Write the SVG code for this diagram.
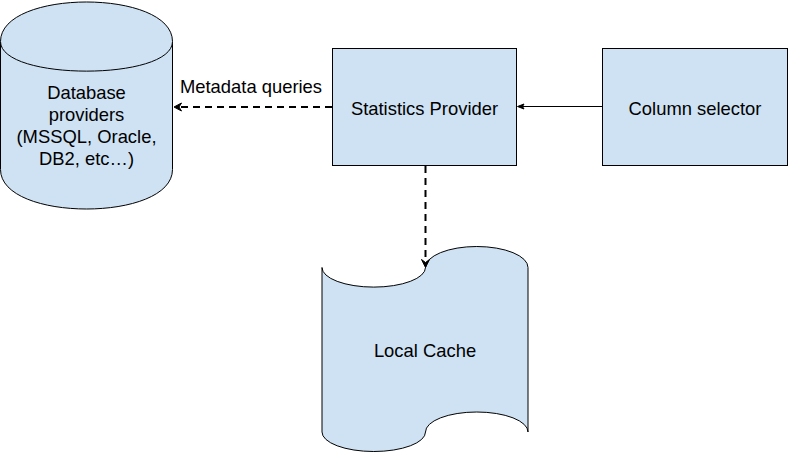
<svg xmlns="http://www.w3.org/2000/svg" width="799" height="463" viewBox="0 0 799 463">
<style>
.shape{fill:#cfe2f3;stroke:#000;stroke-width:1}
.lbl{font-family:"Liberation Sans",Arial,sans-serif;font-size:18.4px;fill:#000;text-anchor:middle}
.dash{fill:none;stroke:#000;stroke-width:2;stroke-dasharray:7 5}
.solid{fill:none;stroke:#000;stroke-width:1}
.head{fill:#000;stroke:#000;stroke-width:1;stroke-linejoin:miter}
</style>
<rect width="799" height="463" fill="#fff"/>
<g id="database">
<path class="shape" d="M0.5,41.5 C0.5,-11.17 172.5,-11.17 172.5,41.5 L172.5,169.5 C172.5,222.17 0.5,222.17 0.5,169.5 Z"/>
<path class="shape" fill="none" d="M0.5,41.5 C0.5,81 172.5,81 172.5,41.5"/>
<text class="lbl" x="86.5" y="99">Database</text>
<text class="lbl" x="86.5" y="121">providers</text>
<text class="lbl" x="86.5" y="143">(MSSQL, Oracle,</text>
<text class="lbl" x="86.5" y="165">DB2, etc…)</text>
</g>
<g id="statistics-provider">
<rect class="shape" x="332.5" y="48.5" width="184" height="117"/>
<text class="lbl" x="424.5" y="115">Statistics Provider</text>
</g>
<g id="column-selector">
<rect class="shape" x="602.5" y="48.5" width="185" height="117"/>
<text class="lbl" x="695" y="115">Column selector</text>
</g>
<g id="local-cache">
<path class="shape" d="M322,267.5 A51.5,19.5 0 0 0 425.5,267.5 A51.25,21 0 0 1 528,267.5 L528,432 A51.25,20 0 0 0 425.5,432 A51.75,19.5 0 0 1 322,432 Z"/>
<text class="lbl" x="425" y="357">Local Cache</text>
</g>
<g id="connectors">
<path class="dash" d="M332,107 L179,107"/>
<path class="head" d="M174,107 L181.5,103 L179,107 L181.5,111 Z"/>
<text class="lbl" x="251" y="93">Metadata queries</text>
<path class="dash" d="M425.5,166 L425.5,262"/>
<path class="head" d="M425.5,267.5 L421.5,259.5 L425.5,262.5 L429.5,259.5 Z"/>
<path class="solid" d="M602,106.5 L521,106.5"/>
<path class="head" d="M517.5,106.5 L524,104 L522.5,106.5 L524,109 Z"/>
</g>
</svg>
